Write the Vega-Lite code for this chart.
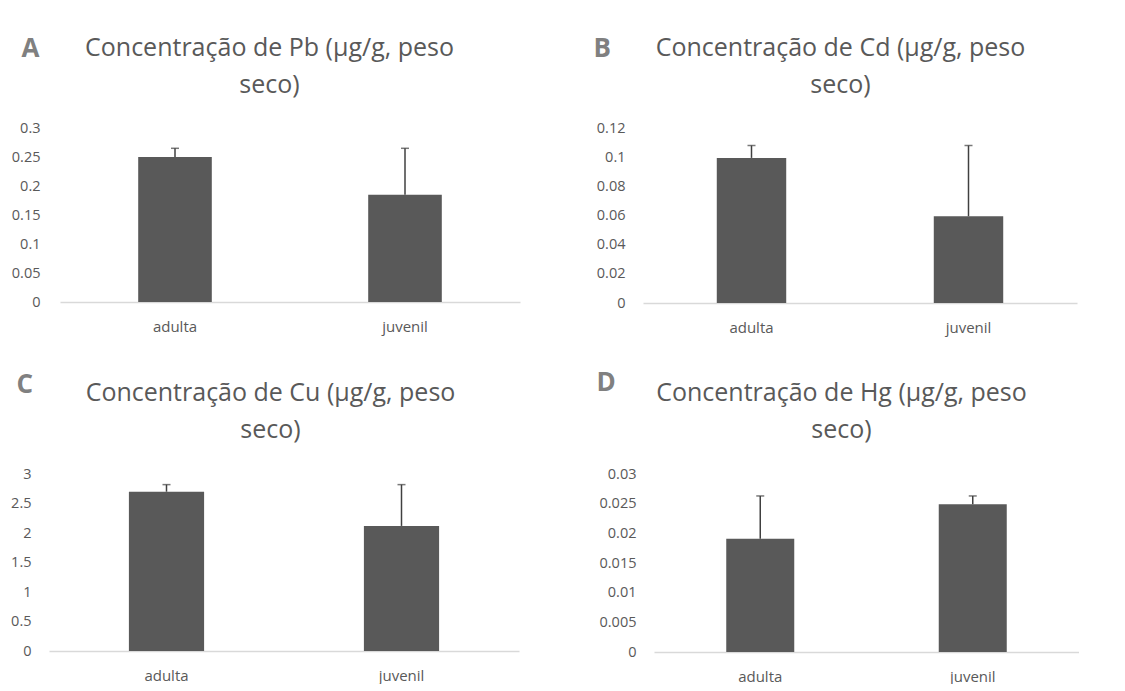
{
  "$schema": "https://vega.github.io/schema/vega-lite/v6.json",
  "background": "white",
  "padding": {"left": -73, "top": 35, "right": 0, "bottom": 0},
  "config": {
    "font": "Open Sans",
    "view": {"stroke": null},
    "axis": {"grid": false, "ticks": false, "labelColor": "#595959", "labelFont": "Open Sans", "labelFontSize": 14.5, "titleFont": "Open Sans"}
  },
  "spacing": 34,
  "vconcat": [
    {
      "spacing": 73,
      "hconcat": [
        {"width": 8, "height": 1, "data": {"values": [{"grupo": "espaço"}]}, "mark": {"type": "point", "opacity": 0}, "encoding": {}},
        {
          "width": 460, "height": 174,
          "resolve": {"axis": {"x": "independent", "y": "independent"}},
          "data": {"values": [{"grupo": "adulta", "media": 0.25, "sup": 0.265}, {"grupo": "juvenil", "media": 0.185, "sup": 0.265}]},
          "layer": [
            {"mark": {"type": "bar", "color": "#595959", "width": {"band": 0.32}},
             "encoding": {
               "x": {"field": "grupo", "type": "nominal", "scale": {"paddingInner": 0, "paddingOuter": 0}, "axis": {"orient": "bottom", "title": null, "labelAngle": 0, "labelPadding": 17, "labelFontSize": 15, "domainColor": "#d9d9d9", "domainWidth": 1.5}},
               "y": {"field": "media", "type": "quantitative", "scale": {"domain": [0, 0.3], "nice": false}, "axis": {"orient": "left", "values": [0, 0.05, 0.1, 0.15, 0.2, 0.25, 0.3], "format": ".2~f", "domain": false, "labelPadding": 20, "title": "A", "titleAngle": 0, "titleAlign": "left", "titleBaseline": "alphabetic", "titleX": -39, "titleY": -72, "titleFontSize": 26, "titleFontWeight": "bold", "titleColor": "#808080"}}
             }},
            {"mark": {"type": "rule", "color": "#404040", "strokeWidth": 1.5},
             "encoding": {
               "x": {"field": "grupo", "type": "nominal", "axis": {"orient": "top", "labels": false, "domain": false, "ticks": false, "title": ["Concentração de Pb (µg/g, peso", "seco)"], "titleX": 209, "titleY": -73, "titleAlign": "center", "titleBaseline": "alphabetic", "titleFontSize": 25, "titleFontWeight": "normal", "titleColor": "#595959", "titleLineHeight": 37}},
               "y": {"field": "sup", "type": "quantitative", "axis": null},
               "y2": {"field": "media"}
             }},
            {"mark": {"type": "tick", "color": "#404040", "thickness": 1.5, "size": 8},
             "encoding": {
               "x": {"field": "grupo", "type": "nominal", "axis": null},
               "y": {"field": "sup", "type": "quantitative", "axis": null}
             }}
          ]
        },
        {
          "width": 434, "height": 175,
          "resolve": {"axis": {"x": "independent", "y": "independent"}},
          "data": {"values": [{"grupo": "adulta", "media": 0.0995, "sup": 0.108}, {"grupo": "juvenil", "media": 0.0595, "sup": 0.108}]},
          "layer": [
            {"mark": {"type": "bar", "color": "#595959", "width": {"band": 0.32}},
             "encoding": {
               "x": {"field": "grupo", "type": "nominal", "scale": {"paddingInner": 0, "paddingOuter": 0}, "axis": {"orient": "bottom", "title": null, "labelAngle": 0, "labelPadding": 17, "labelFontSize": 15, "domainColor": "#d9d9d9", "domainWidth": 1.5}},
               "y": {"field": "media", "type": "quantitative", "scale": {"domain": [0, 0.12], "nice": false}, "axis": {"orient": "left", "values": [0, 0.02, 0.04, 0.06, 0.08, 0.1, 0.12], "format": ".2~f", "domain": false, "labelPadding": 18, "title": "B", "titleAngle": 0, "titleAlign": "left", "titleBaseline": "alphabetic", "titleX": -50, "titleY": -72, "titleFontSize": 26, "titleFontWeight": "bold", "titleColor": "#808080"}}
             }},
            {"mark": {"type": "rule", "color": "#404040", "strokeWidth": 1.5},
             "encoding": {
               "x": {"field": "grupo", "type": "nominal", "axis": {"orient": "top", "labels": false, "domain": false, "ticks": false, "title": ["Concentração de Cd (µg/g, peso", "seco)"], "titleX": 197, "titleY": -73, "titleAlign": "center", "titleBaseline": "alphabetic", "titleFontSize": 25, "titleFontWeight": "normal", "titleColor": "#595959", "titleLineHeight": 37}},
               "y": {"field": "sup", "type": "quantitative", "axis": null},
               "y2": {"field": "media"}
             }},
            {"mark": {"type": "tick", "color": "#404040", "thickness": 1.5, "size": 8},
             "encoding": {
               "x": {"field": "grupo", "type": "nominal", "axis": null},
               "y": {"field": "sup", "type": "quantitative", "axis": null}
             }}
          ]
        }
      ]
    },
    {
      "spacing": 77,
      "hconcat": [
        {"width": 0.5, "height": 1, "data": {"values": [{"grupo": "espaço"}]}, "mark": {"type": "point", "opacity": 0}, "encoding": {}},
        {
          "width": 470, "height": 177,
          "resolve": {"axis": {"x": "independent", "y": "independent"}},
          "data": {"values": [{"grupo": "adulta", "media": 2.7, "sup": 2.82}, {"grupo": "juvenil", "media": 2.12, "sup": 2.82}]},
          "layer": [
            {"mark": {"type": "bar", "color": "#595959", "width": {"band": 0.32}},
             "encoding": {
               "x": {"field": "grupo", "type": "nominal", "scale": {"paddingInner": 0, "paddingOuter": 0}, "axis": {"orient": "bottom", "title": null, "labelAngle": 0, "labelPadding": 17, "labelFontSize": 15, "domainColor": "#d9d9d9", "domainWidth": 1.5}},
               "y": {"field": "media", "type": "quantitative", "scale": {"domain": [0, 3], "nice": false}, "axis": {"orient": "left", "values": [0, 0.5, 1, 1.5, 2, 2.5, 3], "format": ".1~f", "domain": false, "labelPadding": 18, "title": "C", "titleAngle": 0, "titleAlign": "left", "titleBaseline": "alphabetic", "titleX": -33, "titleY": -82, "titleFontSize": 26, "titleFontWeight": "bold", "titleColor": "#808080"}}
             }},
            {"mark": {"type": "rule", "color": "#404040", "strokeWidth": 1.5},
             "encoding": {
               "x": {"field": "grupo", "type": "nominal", "axis": {"orient": "top", "labels": false, "domain": false, "ticks": false, "title": ["Concentração de Cu (µg/g, peso", "seco)"], "titleX": 221, "titleY": -74, "titleAlign": "center", "titleBaseline": "alphabetic", "titleFontSize": 25, "titleFontWeight": "normal", "titleColor": "#595959", "titleLineHeight": 37}},
               "y": {"field": "sup", "type": "quantitative", "axis": null},
               "y2": {"field": "media"}
             }},
            {"mark": {"type": "tick", "color": "#404040", "thickness": 1.5, "size": 8},
             "encoding": {
               "x": {"field": "grupo", "type": "nominal", "axis": null},
               "y": {"field": "sup", "type": "quantitative", "axis": null}
             }}
          ]
        },
        {
          "width": 425, "height": 178,
          "resolve": {"axis": {"x": "independent", "y": "independent"}},
          "data": {"values": [{"grupo": "adulta", "media": 0.0191, "sup": 0.0263}, {"grupo": "juvenil", "media": 0.0249, "sup": 0.0263}]},
          "layer": [
            {"mark": {"type": "bar", "color": "#595959", "width": {"band": 0.32}},
             "encoding": {
               "x": {"field": "grupo", "type": "nominal", "scale": {"paddingInner": 0, "paddingOuter": 0}, "axis": {"orient": "bottom", "title": null, "labelAngle": 0, "labelPadding": 17, "labelFontSize": 15, "domainColor": "#d9d9d9", "domainWidth": 1.5}},
               "y": {"field": "media", "type": "quantitative", "scale": {"domain": [0, 0.03], "nice": false}, "axis": {"orient": "left", "values": [0, 0.005, 0.01, 0.015, 0.02, 0.025, 0.03], "format": ".3~f", "domain": false, "labelPadding": 18, "title": "D", "titleAngle": 0, "titleAlign": "left", "titleBaseline": "alphabetic", "titleX": -58, "titleY": -84, "titleFontSize": 26, "titleFontWeight": "bold", "titleColor": "#808080"}}
             }},
            {"mark": {"type": "rule", "color": "#404040", "strokeWidth": 1.5},
             "encoding": {
               "x": {"field": "grupo", "type": "nominal", "axis": {"orient": "top", "labels": false, "domain": false, "ticks": false, "title": ["Concentração de Hg (µg/g, peso", "seco)"], "titleX": 187, "titleY": -74, "titleAlign": "center", "titleBaseline": "alphabetic", "titleFontSize": 25, "titleFontWeight": "normal", "titleColor": "#595959", "titleLineHeight": 37}},
               "y": {"field": "sup", "type": "quantitative", "axis": null},
               "y2": {"field": "media"}
             }},
            {"mark": {"type": "tick", "color": "#404040", "thickness": 1.5, "size": 8},
             "encoding": {
               "x": {"field": "grupo", "type": "nominal", "axis": null},
               "y": {"field": "sup", "type": "quantitative", "axis": null}
             }}
          ]
        }
      ]
    }
  ]
}
